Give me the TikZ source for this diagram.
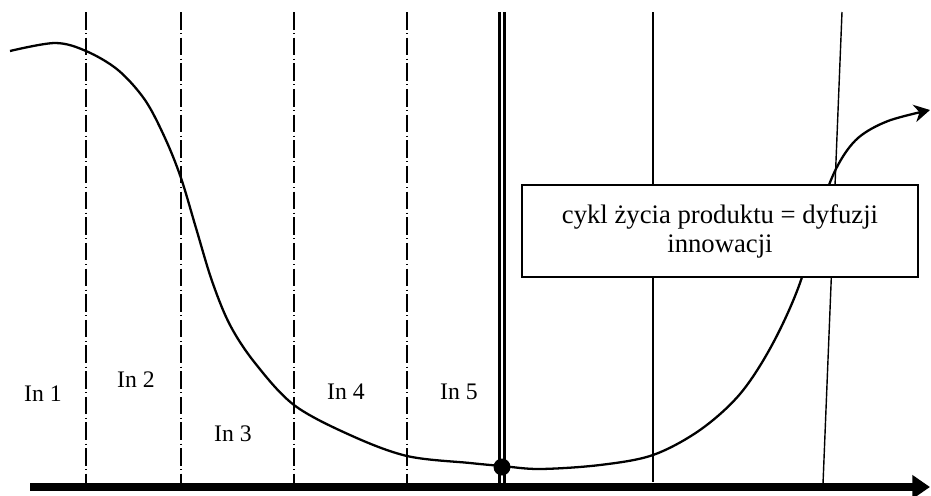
\documentclass[tikz,border=0pt]{standalone}
\usepackage{fontspec}
\setmainfont{Liberation Serif}
\usetikzlibrary{arrows.meta,positioning}

\begin{document}
\begin{tikzpicture}[
  x=0.02cm, y=-0.02cm,
  font=\fontsize{13.5}{15}\selectfont,
  phase/.style={line width=0.8pt, dash pattern=on 10pt off 2pt on 0.6pt off 2pt},
  thinline/.style={line width=0.8pt},
  axis/.style={line width=5pt, -{Triangle[length=10pt,width=13pt]}},
  curve/.style={line width=1.3pt, -{Stealth[length=9pt,width=10pt]}},
  lbl/.style={inner sep=0pt, anchor=base},
  note/.style={rectangle, draw, thinline, fill=white, align=center,
               minimum width=7.92cm, minimum height=1.84cm,
               font=\fontsize{15.2}{16.5}\selectfont}
]
\useasboundingbox (0,0) rectangle (931,495);
% --- os czasu ---
\coordinate (o0) at (30,487);
\coordinate (o1) at (930,487);
% --- granice faz ---
\foreach \x/\n in {86/a,181/b,294/c,407/d}{
  \coordinate (\n t) at (\x,12);
  \coordinate (\n b) at (\x,484);
  \draw[phase] (\n t) -- (\n b);
}
\coordinate (dt) at (502,12);
\coordinate (db) at (502,486);
\draw[line width=2pt, double distance=1pt] (dt) -- (db);
\coordinate (st) at (653,12);
\coordinate (sb) at (653,482);
\draw[thinline] (st) -- (sb);
\coordinate (kt) at (842,12);
\coordinate (kb) at (823,484);
\draw[thinline] (kt) -- (kb);
% --- krzywa ---
\draw[curve] plot[smooth, tension=0.55] coordinates {
  (10,51) (55,43) (86,51) (118,70) (145,100) (165,138) (181,178)
  (196,228) (212,281) (230,325) (255,363) (294,405) (350,435)
  (407,456) (470,463) (502,466) (540,469) (600,465) (653,455)
  (700,430) (740,394) (772,345) (800,283) (822,205) (838,165)
  (858,138) (888,121) (930,110)};
\draw[axis] (o0) -- (o1);
\node[circle, fill, inner sep=0pt, minimum size=0.34cm] (pkt) at (502,467) {};
% --- etykiety ---
\node[lbl] (in1) at (43,401)  {In 1};
\node[lbl] (in2) at (136,387) {In 2};
\node[lbl] (in3) at (233,441) {In 3};
\node[lbl] (in4) at (346,399) {In 4};
\node[lbl] (in5) at (459,399) {In 5};
\node[note] (cykl) at (720,231) {cykl życia produktu = dyfuzji\\innowacji};
\end{tikzpicture}
\end{document}
